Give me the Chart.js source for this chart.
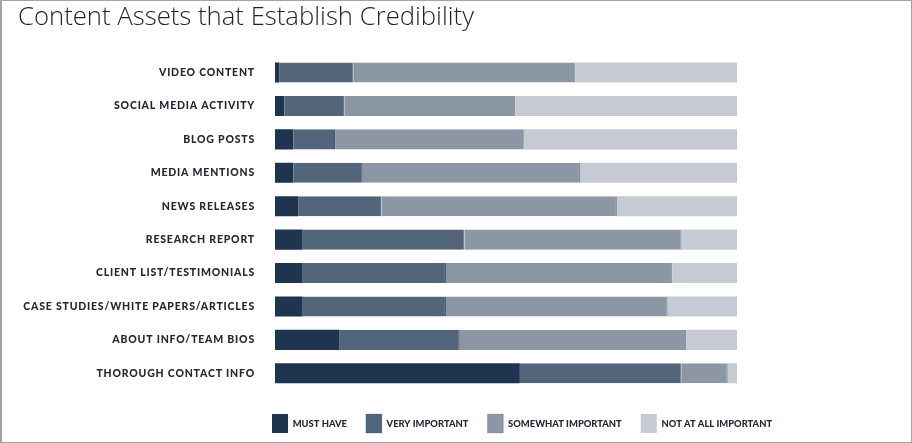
<!DOCTYPE html>
<html>
<head>
<meta charset="utf-8">
<script src="https://cdn.jsdelivr.net/npm/chart.js@4/dist/chart.umd.min.js"></script>
<style>
  html, body { margin: 0; padding: 0; background: #ffffff; }
  #wrap { position: relative; width: 912px; height: 443px; }
  #frame { position: absolute; left: 0; top: 0; width: 912px; height: 443px; box-sizing: border-box;
           border-top: 1px solid #a3a3a3; border-left: 2px solid #a3a3a3; border-right: 1px solid #a3a3a3;
           border-bottom: 1px solid #a3a3a3; pointer-events: none; }
  canvas { display: block; }
</style>
</head>
<body>
<div id="wrap">
  <canvas id="c" width="912" height="443"></canvas>
  <div id="frame"></div>
</div>
<script>
const titleText = 'Content Assets that Establish Credibility';
const categories = [
  'VIDEO CONTENT',
  'SOCIAL MEDIA ACTIVITY',
  'BLOG POSTS',
  'MEDIA MENTIONS',
  'NEWS RELEASES',
  'RESEARCH REPORT',
  'CLIENT LIST/TESTIMONIALS',
  'CASE STUDIES/WHITE PAPERS/ARTICLES',
  'ABOUT INFO/TEAM BIOS',
  'THOROUGH CONTACT INFO'
];
const seriesNames = ['MUST HAVE', 'VERY IMPORTANT', 'SOMEWHAT IMPORTANT', 'NOT AT ALL IMPORTANT'];
const mustHave          = [1, 2, 4, 4, 5, 6, 6, 6, 14, 53];
const veryImportant     = [16, 13, 9, 15, 18, 35, 31, 31, 26, 35];
const somewhatImportant = [48, 37, 41, 47, 51, 47, 49, 48, 49, 10];
const notAtAllImportant = [35, 48, 46, 34, 26, 12, 14, 15, 11, 2];

const fills   = ['#1f344f', '#52657a', '#8c97a5', '#c6cad2'];
const edges   = ['#1f344f', '#3b4b5f', '#6f7b8a', '#c6cad2'];
const seriesValues = [mustHave, veryImportant, somewhatImportant, notAtAllImportant];

const labelColor = '#232836';

const legendShift = {
  id: 'legendShift',
  afterLayout(chart) {
    const lg = chart.legend;
    if (!lg) return;
    const pad = lg.options.labels.padding;
    const target = chart.chartArea.left - 3 - pad;
    const dx = target - lg.left;
    lg.left += dx;
    lg.right += dx;
  }
};

const spacedLabels = {
  id: 'spacedLabels',
  beforeDraw(chart) {
    const s = chart.scales.y;
    if (s && !s._spaced) {
      const orig = s.drawLabels.bind(s);
      s.drawLabels = function (area) {
        const ctx = this.ctx;
        const prev = ctx.letterSpacing;
        ctx.letterSpacing = '0.8px';
        orig(area);
        ctx.letterSpacing = prev || '0px';
      };
      s._spaced = true;
    }
  }
};

new Chart(document.getElementById('c'), {
  type: 'bar',
  data: {
    labels: categories,
    datasets: seriesValues.map((vals, i) => ({
      label: seriesNames[i],
      data: vals,
      backgroundColor: fills[i],
      borderColor: edges[i],
      borderWidth: (i === 1 || i === 2) ? { top: 0, right: 1, bottom: 0, left: 0 } : 0,
      borderSkipped: false,
      barPercentage: 0.6,
      categoryPercentage: 1.0
    }))
  },
  options: {
    indexAxis: 'y',
    responsive: false,
    animation: false,
    devicePixelRatio: 1,
    layout: { padding: { left: 18, right: 175, top: 0, bottom: 0 } },
    scales: {
      x: {
        stacked: true, min: 0, max: 100,
        display: true,
        grid: { display: false, drawTicks: false },
        border: { display: false },
        ticks: { display: false },
        afterFit(scale) { scale.height = 5; }
      },
      y: {
        stacked: true,
        grid: { display: false, drawTicks: false },
        border: { display: false },
        ticks: {
          padding: 20,
          color: labelColor,
          font: { family: 'Lato', size: 10.5, weight: '900' }
        },
        afterFit(scale) { scale.width = 257; }
      }
    },
    plugins: {
      title: {
        display: true,
        text: titleText,
        align: 'start',
        color: '#1d2230',
        font: { family: 'Open Sans', size: 25.7, weight: '300', lineHeight: 1.2 },
        padding: { top: 2, bottom: 23 }
      },
      legend: {
        display: true,
        position: 'bottom',
        align: 'start',
        labels: {
          boxWidth: 16,
          boxHeight: 19,
          padding: 19,
          color: labelColor,
          font: { family: 'Lato', size: 9.4, weight: '900' }
        }
      },
      tooltip: { enabled: false }
    }
  },
  plugins: [legendShift, spacedLabels]
});
</script>
</body>
</html>
